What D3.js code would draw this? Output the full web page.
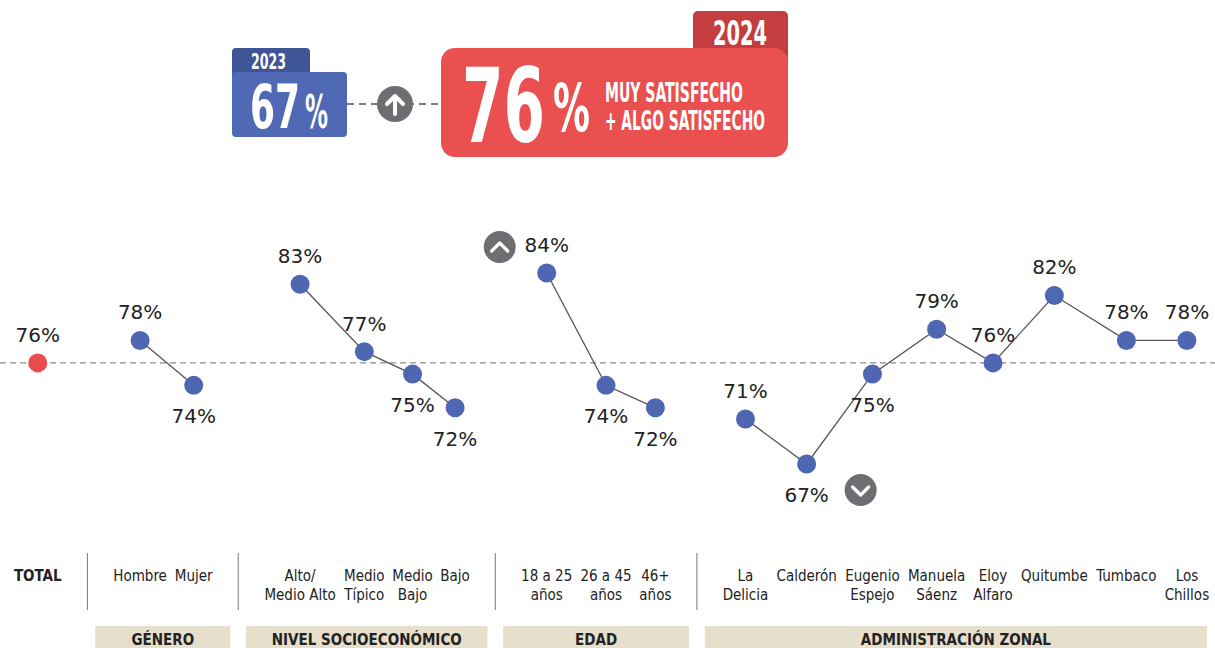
<!DOCTYPE html>
<html>
<head>
<meta charset="utf-8">
<script src="https://cdn.jsdelivr.net/npm/d3@7"></script>
<style>
  body { margin: 0; background: #fff; }
  svg { display: block; }
</style>
</head>
<body>
<div id="chart"></div>
<script>
// satisfaction by segment (muy + algo satisfecho)
var categories = ["TOTAL", "Hombre", "Mujer", "Alto/Medio Alto", "Medio Típico", "Medio Bajo", "Bajo",
  "18 a 25 años", "26 a 45 años", "46+ años", "La Delicia", "Calderón", "Eugenio Espejo",
  "Manuela Sáenz", "Eloy Alfaro", "Quitumbe", "Tumbaco", "Los Chillos"];
var labelLines = [["TOTAL"], ["Hombre"], ["Mujer"], ["Alto/", "Medio Alto"], ["Medio", "Típico"], ["Medio", "Bajo"], ["Bajo"],
  ["18 a 25", "años"], ["26 a 45", "años"], ["46+", "años"], ["La", "Delicia"], ["Calderón"], ["Eugenio", "Espejo"],
  ["Manuela", "Sáenz"], ["Eloy", "Alfaro"], ["Quitumbe"], ["Tumbaco"], ["Los", "Chillos"]];
var values = [76, 78, 74, 83, 77, 75, 72, 84, 74, 72, 71, 67, 75, 79, 76, 82, 78, 78];
var groupOf = ["TOTAL", "GÉNERO", "GÉNERO", "NIVEL SOCIOECONÓMICO", "NIVEL SOCIOECONÓMICO", "NIVEL SOCIOECONÓMICO",
  "NIVEL SOCIOECONÓMICO", "EDAD", "EDAD", "EDAD", "ADMINISTRACIÓN ZONAL", "ADMINISTRACIÓN ZONAL",
  "ADMINISTRACIÓN ZONAL", "ADMINISTRACIÓN ZONAL", "ADMINISTRACIÓN ZONAL", "ADMINISTRACIÓN ZONAL",
  "ADMINISTRACIÓN ZONAL", "ADMINISTRACIÓN ZONAL"];
var groupNames = ["GÉNERO", "NIVEL SOCIOECONÓMICO", "EDAD", "ADMINISTRACIÓN ZONAL"];
var prevYear = "2023", prevValue = 67;
var currYear = "2024";
var headline = ["MUY SATISFECHO", "+ ALGO SATISFECHO"];

var width = 1215, height = 648;
var labelFont = "'DejaVu Sans Condensed', 'DejaVu Sans', sans-serif";
var valueFont = "'DejaVu Sans', sans-serif";
var headFont = "'Liberation Sans Narrow', 'DejaVu Sans Condensed', sans-serif";

var svg = d3.select("#chart").append("svg")
    .attr("width", width)
    .attr("height", height);

// ---- header badges ----
var head = svg.append("g");

// condensed white text squeezed to a given width
function headText(txt, x0, base, size, w) {
  var t = head.append("text")
      .style("font-family", headFont)
      .style("font-weight", "bold")
      .style("font-size", size + "px")
      .attr("fill", "#fff")
      .text(txt);
  var natural = t.node().getComputedTextLength();
  t.attr("transform", "translate(" + x0 + "," + base + ") scale(" + (w / natural) + ",1)");
  return t;
}

// dashed connector + arrow
head.append("line")
    .attr("x1", 347).attr("x2", 441).attr("y1", 104).attr("y2", 104)
    .attr("stroke", "#7a7a7a").attr("stroke-width", 2).attr("stroke-dasharray", "7,5");
head.append("circle").attr("cx", 395).attr("cy", 104).attr("r", 18).attr("fill", "#6d6e71");
head.append("path")
    .attr("d", "M395,114V96M387,104L395,96L403,104")
    .attr("fill", "none").attr("stroke", "#fff").attr("stroke-width", 4)
    .attr("stroke-linecap", "round").attr("stroke-linejoin", "round");

// 2023
head.append("rect").attr("x", 232).attr("y", 48).attr("width", 78).attr("height", 40).attr("rx", 4).attr("fill", "#3f5596");
head.append("rect").attr("x", 232).attr("y", 72).attr("width", 115).attr("height", 65).attr("rx", 4).attr("fill", "#5069b4");
headText(prevYear, 251, 69, 22, 35);
headText(prevValue, 250, 128, 60, 50);
headText("%", 305, 128, 46, 23);

// 2024
head.append("rect").attr("x", 693).attr("y", 11).attr("width", 95).attr("height", 60).attr("rx", 5).attr("fill", "#c43d3f");
head.append("rect").attr("x", 441).attr("y", 48).attr("width", 347).attr("height", 109).attr("rx", 14).attr("fill", "#ea5050");
headText(currYear, 713, 45, 34, 54);
headText(values[0], 462, 142, 104, 83);
headText("%", 553, 131, 66, 37);
headText(headline[0], 605, 102, 26, 138);
headText(headline[1], 605, 130, 26, 160);

// ---- column layout from label widths ----
var meas = svg.append("text").style("font-family", labelFont).style("font-size", "15px");
var widths = labelLines.map(function(lines, i) {
  meas.style("font-weight", i === 0 ? "bold" : "normal");
  return d3.max(lines, function(l) { meas.text(l); return meas.node().getComputedTextLength(); });
});
meas.remove();

var innerGap = 6, groupGap = 48;
var centers = [], lefts = [], rights = [], dividers = [];
var cursor = 0;
categories.forEach(function(c, i) {
  if (i > 0) {
    if (groupOf[i] === groupOf[i - 1]) {
      cursor += innerGap;
    } else {
      dividers.push(cursor + groupGap / 2);
      cursor += groupGap;
    }
  }
  lefts.push(cursor);
  centers.push(cursor + widths[i] / 2);
  cursor += widths[i];
  rights.push(cursor);
});

var x = d3.scaleLinear().domain([0, cursor]).range([13, 1210]);
var y = d3.scaleLinear().domain([67, 84]).range([464, 273]);

// total reference line
svg.append("line")
    .attr("x1", 0).attr("x2", width)
    .attr("y1", y(values[0])).attr("y2", y(values[0]))
    .attr("stroke", "#8c8c8c").attr("stroke-width", 1.3).attr("stroke-dasharray", "6,4");

// connecting lines per group
var line = d3.line()
    .x(function(i) { return x(centers[i]); })
    .y(function(i) { return y(values[i]); });

groupNames.forEach(function(g) {
  var idx = d3.range(categories.length).filter(function(i) { return groupOf[i] === g; });
  svg.append("path")
      .datum(idx)
      .attr("d", line)
      .attr("fill", "none")
      .attr("stroke", "#555")
      .attr("stroke-width", 1.3);
});

// points
svg.selectAll("circle.pt")
    .data(values)
  .enter().append("circle")
    .attr("class", "pt")
    .attr("cx", function(d, i) { return x(centers[i]); })
    .attr("cy", function(d) { return y(d); })
    .attr("r", 9.5)
    .attr("fill", function(d, i) { return i === 0 ? "#e84c4c" : "#4f67b3"; });

// value labels: below when under the total and not leading its group
function isBelow(i) {
  return i > 0 && values[i] < values[0] && groupOf[i] === groupOf[i - 1];
}
svg.selectAll("text.val")
    .data(values)
  .enter().append("text")
    .attr("class", "val")
    .attr("x", function(d, i) { return x(centers[i]); })
    .attr("y", function(d, i) { return isBelow(i) ? y(d) + 38 : y(d) - 21; })
    .attr("text-anchor", "middle")
    .style("font-family", valueFont)
    .style("font-size", "20px")
    .attr("fill", "#222")
    .text(function(d) { return d + "%"; });

// max / min markers
var iMax = d3.maxIndex(values), iMin = d3.minIndex(values);
var up = svg.append("g").attr("transform", "translate(" + (x(centers[iMax]) - 47) + "," + (y(values[iMax]) - 26) + ")");
up.append("circle").attr("r", 16).attr("fill", "#6d6e71");
up.append("path").attr("d", "M-8,4L0,-4L8,4")
    .attr("fill", "none").attr("stroke", "#fff").attr("stroke-width", 3.2)
    .attr("stroke-linecap", "round").attr("stroke-linejoin", "round");
var down = svg.append("g").attr("transform", "translate(" + (x(centers[iMin]) + 54) + "," + (y(values[iMin]) + 26) + ")");
down.append("circle").attr("r", 16).attr("fill", "#6d6e71");
down.append("path").attr("d", "M-8,-3L0,5L8,-3")
    .attr("fill", "none").attr("stroke", "#fff").attr("stroke-width", 3.2)
    .attr("stroke-linecap", "round").attr("stroke-linejoin", "round");

// category labels
var cat = svg.selectAll("text.cat")
    .data(labelLines)
  .enter().append("text")
    .attr("class", "cat")
    .attr("text-anchor", "middle")
    .style("font-family", labelFont)
    .style("font-size", "15px")
    .style("font-weight", function(d, i) { return i === 0 ? "bold" : "normal"; })
    .attr("fill", "#222");
cat.selectAll("tspan")
    .data(function(d, i) { return d.map(function(l) { return { text: l, i: i }; }); })
  .enter().append("tspan")
    .attr("x", function(d) { return x(centers[d.i]); })
    .attr("y", function(d, j) { return 581 + j * 19; })
    .text(function(d) { return d.text; });

// group dividers
svg.selectAll("line.div")
    .data(dividers)
  .enter().append("line")
    .attr("class", "div")
    .attr("x1", function(d) { return x(d); }).attr("x2", function(d) { return x(d); })
    .attr("y1", 553).attr("y2", 610)
    .attr("stroke", "#777").attr("stroke-width", 1);

// group headers
groupNames.forEach(function(g) {
  var idx = d3.range(categories.length).filter(function(i) { return groupOf[i] === g; });
  var x0 = x(lefts[idx[0]]) - 17;
  var x1 = Math.min(x(rights[idx[idx.length - 1]]) + 17, width - 8);
  svg.append("rect")
      .attr("x", x0).attr("y", 626)
      .attr("width", x1 - x0).attr("height", 26)
      .attr("fill", "#e6dfcc");
  svg.append("text")
      .attr("x", (x0 + x1) / 2).attr("y", 645)
      .attr("text-anchor", "middle")
      .style("font-family", labelFont)
      .style("font-size", "15px")
      .style("font-weight", "bold")
      .attr("fill", "#222")
      .text(g);
});
</script>
</body>
</html>
